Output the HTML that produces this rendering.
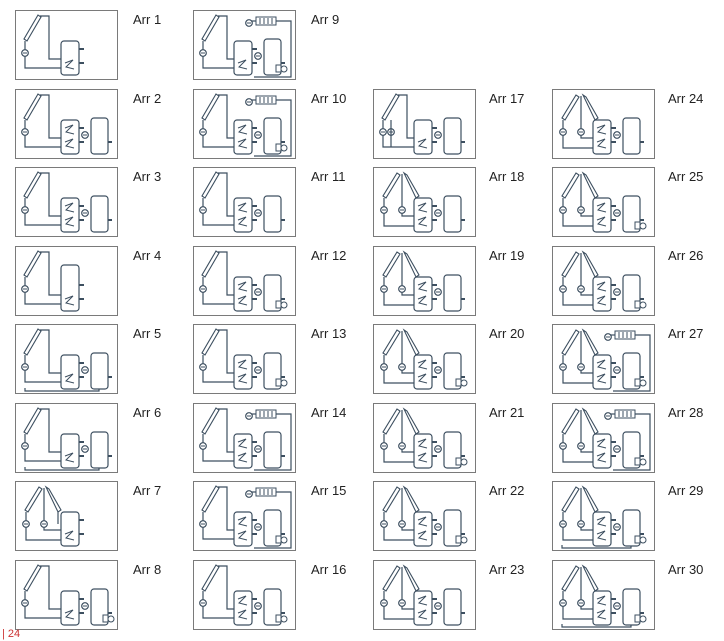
<!DOCTYPE html>
<html><head><meta charset="utf-8"><style>
html,body{margin:0;padding:0;background:#fff;width:724px;height:641px;overflow:hidden}
body{position:relative;font-family:"Liberation Sans",sans-serif}
.box{position:absolute;width:101px;height:68px;border:1px solid #7a7a7a;background:#fff}
.lbl{position:absolute;font-size:13px;color:#222}
svg{position:absolute;left:0;top:0}
.pg{position:absolute;left:2px;top:628px;font-size:11px;color:#c33}
</style></head><body>
<div id="root"></div>
<div class="pg">| 24</div>
<script>
var cols=[15,193,373,552];
var rows=[10,89,167,246,324,403,481,560];
var lx=[133,311,489,668];
var root=document.getElementById('root');
var rad=[9,10,14,15,27,28];
var boil=[8,9,10,12,13,15,16,20,21,22,25,26,27,28,29,30];
var second=[2,3,5,6,8,9,10,11,12,13,14,15,16,17,18,19,20,21,22,23,24,25,26,27,28,29,30];
function dia(n){
 var c='#3d4f60',s='';
 var dbl=(n==7)||(n>=18&&n!=17);
 function L(p){s+='<polyline points="'+p+'" fill="none" stroke="'+c+'" stroke-width="1.2"/>';}
 function P(x,y){s+='<circle cx="'+x+'" cy="'+y+'" r="3.3" fill="#fff" stroke="'+c+'" stroke-width="1.2"/><line x1="'+(x-2)+'" y1="'+y+'" x2="'+(x+2)+'" y2="'+y+'" stroke="'+c+'"/>';}
 var t1x=n<=8?45:40, t1w=18;
 if(!dbl){
  s+='<polygon points="8,28 11,30 25,6 22,4" fill="#fff" stroke="'+c+'" stroke-width="1.1"/>';
  L('9,30 9,57 '+(t1x+10)+',57');
  L('24,5 33,5 33,48 '+(t1x+10)+',48');
  P(9,42);
  if(n==17){P(17,42);L('17,30 17,57');}
 } else {
  s+='<polygon points="9,28 12,30 26,7 23,5" fill="#fff" stroke="'+c+'" stroke-width="1.1"/>';
  s+='<polygon points="30,5 33,7 45,28 42,30" fill="#fff" stroke="'+c+'" stroke-width="1.1"/>';
  L('10,30 10,58 '+(t1x+10)+',58');
  L('28,6 28,48 '+(t1x+10)+',48');
  L('42,30 42,42');
  P(10,42);P(28,42);
 }
 var t1y=n<=8&&(n==4)?18:30;
 s+='<rect x="'+t1x+'" y="'+t1y+'" width="'+t1w+'" height="'+(64-t1y)+'" rx="3" fill="#fff" stroke="'+c+'" stroke-width="1.2"/>';
 s+='<polyline points="'+(t1x+4)+',52 '+(t1x+12)+',49 '+(t1x+5)+',56 '+(t1x+13)+',58" fill="none" stroke="'+c+'"/>';
 if(n>=10&&n!=17||n==2||n==3) s+='<polyline points="'+(t1x+4)+',38 '+(t1x+12)+',35 '+(t1x+5)+',42 '+(t1x+13)+',44" fill="none" stroke="'+c+'"/>';
 s+='<line x1="'+(t1x+t1w)+'" y1="38" x2="'+(t1x+t1w+5)+'" y2="38" stroke="'+c+'" stroke-width="2"/>';
 s+='<line x1="'+(t1x+t1w)+'" y1="52" x2="'+(t1x+t1w+5)+'" y2="52" stroke="'+c+'" stroke-width="2"/>';
 if(second.indexOf(n)>=0){
  var t2x=t1x+t1w+12;
  if(t2x<70)t2x=70;
  P(t1x+t1w+6,45);
  s+='<rect x="'+t2x+'" y="28" width="17" height="36" rx="3" fill="#fff" stroke="'+c+'" stroke-width="1.2"/>';
  s+='<line x1="'+(t2x+17)+'" y1="52" x2="'+(t2x+21)+'" y2="52" stroke="'+c+'" stroke-width="2"/>';
  if(n==5||n==6||n==29||n==30){L('9,63 9,66 '+(t2x+8)+',66 '+(t2x+8)+',64');}
  if(boil.indexOf(n)>=0){s+='<rect x="'+(t2x+12)+'" y="54" width="5" height="7" fill="#fff" stroke="'+c+'"/><circle cx="'+(t2x+20)+'" cy="58" r="3" fill="#fff" stroke="'+c+'"/>';}
  if(rad.indexOf(n)>=0){
   s+='<rect x="'+(t1x+22)+'" y="6" width="20" height="8" fill="#fff" stroke="'+c+'"/>';
   for(var i=1;i<5;i++)s+='<line x1="'+(t1x+22+i*4)+'" y1="7" x2="'+(t1x+22+i*4)+'" y2="13" stroke="'+c+'"/>';
   L((t1x+15)+',10 '+(t1x+22)+',10');P(t1x+15,12);
   L((t1x+42)+',10 '+(t2x+27)+',10 '+(t2x+27)+',64 '+(t2x+27)+',66 '+(t1x+20)+',66');
  }
 }
 return '<svg width="101" height="68">'+s+'</svg>';
}
var h='';
for(var n=1;n<=30;n++){
 var ci,ri;
 if(n<=8){ci=0;ri=n-1;}else if(n<=16){ci=1;ri=n-9;}else if(n<=23){ci=2;ri=n-16;}else{ci=3;ri=n-23;}
 h+='<div class="box" style="left:'+cols[ci]+'px;top:'+rows[ri]+'px">'+dia(n)+'</div>';
 h+='<div class="lbl" style="left:'+lx[ci]+'px;top:'+(rows[ri]+2)+'px">Arr '+n+'</div>';
}
root.innerHTML=h;
</script>
</body></html>
